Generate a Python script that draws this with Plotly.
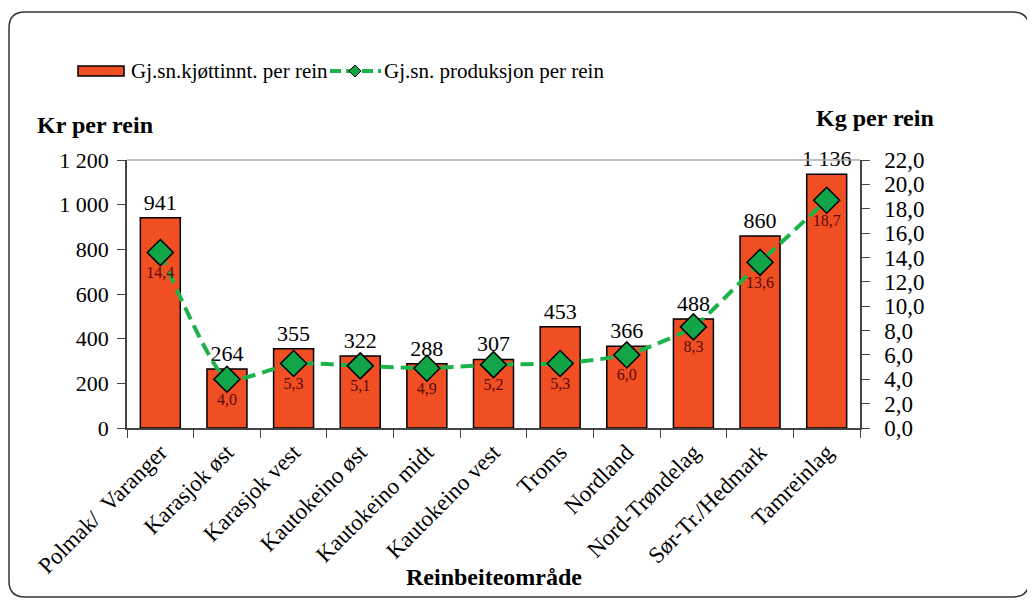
import plotly.graph_objects as go

# data
omrader = ['Polmak/\u00a0\u00a0Varanger', 'Karasjok øst', 'Karasjok vest', 'Kautokeino øst',
           'Kautokeino midt', 'Kautokeino vest', 'Troms', 'Nordland',
           'Nord-Trøndelag', 'Sør-Tr./Hedmark', 'Tamreinlag']
kjott_kr = [941, 264, 355, 322, 288, 307, 453, 366, 488, 860, 1136]
prod_kg = [14.4, 4.0, 5.3, 5.1, 4.9, 5.2, 5.3, 6.0, 8.3, 13.6, 18.7]

kr_txt = [f'{v:,}'.replace(',', ' ') for v in kjott_kr]
kg_txt = [f'{v:.1f}'.replace('.', ',') for v in prod_kg]

FONT = 'Liberation Serif'
RED = '#F04E23'
GREEN_LINE = '#1DB34A'
GREEN_MK = '#11A548'

# page has an 8px body margin, so work in screen px and shift back
OFF = 8
L, R, T, B = 127 - OFF, 860 - OFF, 160 - OFF, 428 - OFF


def px(x, y):
    # screen pixel -> paper coords
    return (x - OFF - L) / (R - L), (B - (y - OFF)) / (B - T)


def path_from(pts):
    out = []
    for p in pts:
        cmd, coords = p[0], p[1:]
        s = []
        for i in range(0, len(coords), 2):
            a, b = px(coords[i], coords[i + 1])
            s.append(f'{a:.5f},{b:.5f}')
        out.append(cmd + ' '.join(s))
    return ' '.join(out) + ' Z'


def rounded_frame(x0, y0, x1, y1, r):
    return path_from([
        ('M', x0 + r, y0), ('L', x1 - r, y0), ('Q', x1, y0, x1, y0 + r),
        ('L', x1, y1 - r), ('Q', x1, y1, x1 - r, y1), ('L', x0 + r, y1),
        ('Q', x0, y1, x0, y1 - r), ('L', x0, y0 + r), ('Q', x0, y0, x0 + r, y0),
    ])


def diamond(cx, cy, h):
    return path_from([('M', cx, cy - h), ('L', cx + h, cy), ('L', cx, cy + h), ('L', cx - h, cy)])


fig = go.Figure()

fig.add_trace(go.Bar(
    x=omrader, y=kjott_kr, name='Gj.sn.kjøttinnt. per rein',
    marker=dict(color=RED, line=dict(color='black', width=1.5)),
    text=kr_txt, textposition='outside', cliponaxis=False, constraintext='none',
    textfont=dict(family=FONT, size=22, color='black'),
))

fig.add_trace(go.Scatter(
    x=omrader, y=prod_kg, yaxis='y2', name='Gj.sn. produksjon per rein',
    mode='lines+markers+text',
    line=dict(color=GREEN_LINE, width=4, dash='13px,7px', shape='spline', smoothing=0.5),
    marker=dict(symbol='diamond', size=20, color=GREEN_MK,
                line=dict(color='black', width=1.5)),
    text=kg_txt, textposition='bottom center',
    textfont=dict(family=FONT, size=16, color='#5A0A0A'),
    cliponaxis=False,
))

ax_common = dict(showline=True, linecolor='#444', linewidth=1.5,
                 ticks='outside', ticklen=8, tickcolor='#444',
                 showgrid=False, automargin=False)

fig.update_layout(
    width=1035, height=600,
    margin=dict(l=L, r=1035 - R, t=T, b=600 - B),
    paper_bgcolor='white', plot_bgcolor='white',
    separators=', ',
    font=dict(family=FONT, size=20, color='black'),
    bargap=0.4,
    showlegend=False,
    xaxis=dict(**ax_common, range=[-0.5, len(omrader) - 0.5],
               tickson='boundaries', tickangle=-45,
               tickfont=dict(family=FONT, size=23)),
    yaxis=dict(**ax_common, range=[0, 1200], dtick=200, tickformat=',d',
               zeroline=False, ticklabelstandoff=4,
               tickfont=dict(family=FONT, size=22)),
    yaxis2=dict(**ax_common, range=[0, 22], dtick=2, tickformat='.1f',
                overlaying='y', side='right', zeroline=False, ticklabelstandoff=10,
                tickfont=dict(family=FONT, size=23)),
    shapes=[
        dict(type='line', xref='paper', yref='paper', x0=0, x1=1, y0=1, y1=1,
             line=dict(color='#AAAAAA', width=1.5)),
        dict(type='path', xref='paper', yref='paper',
             path=rounded_frame(9, 12, 1029, 597, 16),
             line=dict(color='#333333', width=1.5)),
        # legend swatches
        dict(type='rect', xref='paper', yref='paper',
             x0=px(78, 0)[0], x1=px(124, 0)[0], y0=px(0, 76)[1], y1=px(0, 66)[1],
             fillcolor=RED, line=dict(color='black', width=1.5)),
        dict(type='line', xref='paper', yref='paper',
             x0=px(330, 0)[0], x1=px(381, 0)[0], y0=px(0, 71)[1], y1=px(0, 71)[1],
             line=dict(color=GREEN_LINE, width=4, dash='11px,5px')),
        dict(type='path', xref='paper', yref='paper', path=diamond(355, 71, 6),
             fillcolor=GREEN_MK, line=dict(color='black', width=1)),
    ],
    annotations=[
        dict(text='Gj.sn.kjøttinnt. per rein', xref='paper', yref='paper',
             x=px(129, 0)[0], y=px(0, 71)[1], xanchor='left', yanchor='middle',
             showarrow=False, font=dict(family=FONT, size=21)),
        dict(text='Gj.sn. produksjon per rein', xref='paper', yref='paper',
             x=px(382, 0)[0], y=px(0, 71)[1], xanchor='left', yanchor='middle',
             showarrow=False, font=dict(family=FONT, size=21)),
        dict(text='<b>Kr per rein</b>', xref='paper', yref='paper',
             x=px(35, 0)[0], y=px(0, 125)[1], xanchor='left', yanchor='middle',
             showarrow=False, font=dict(family=FONT, size=24)),
        dict(text='<b>Kg per rein</b>', xref='paper', yref='paper',
             x=px(814, 0)[0], y=px(0, 118)[1], xanchor='left', yanchor='middle',
             showarrow=False, font=dict(family=FONT, size=24)),
        dict(text='<b>Reinbeiteområde</b>', xref='paper', yref='paper',
             x=px(494, 0)[0], y=px(0, 577)[1], xanchor='center', yanchor='middle',
             showarrow=False, font=dict(family=FONT, size=24)),
    ],
)

fig.write_html('out.html')
